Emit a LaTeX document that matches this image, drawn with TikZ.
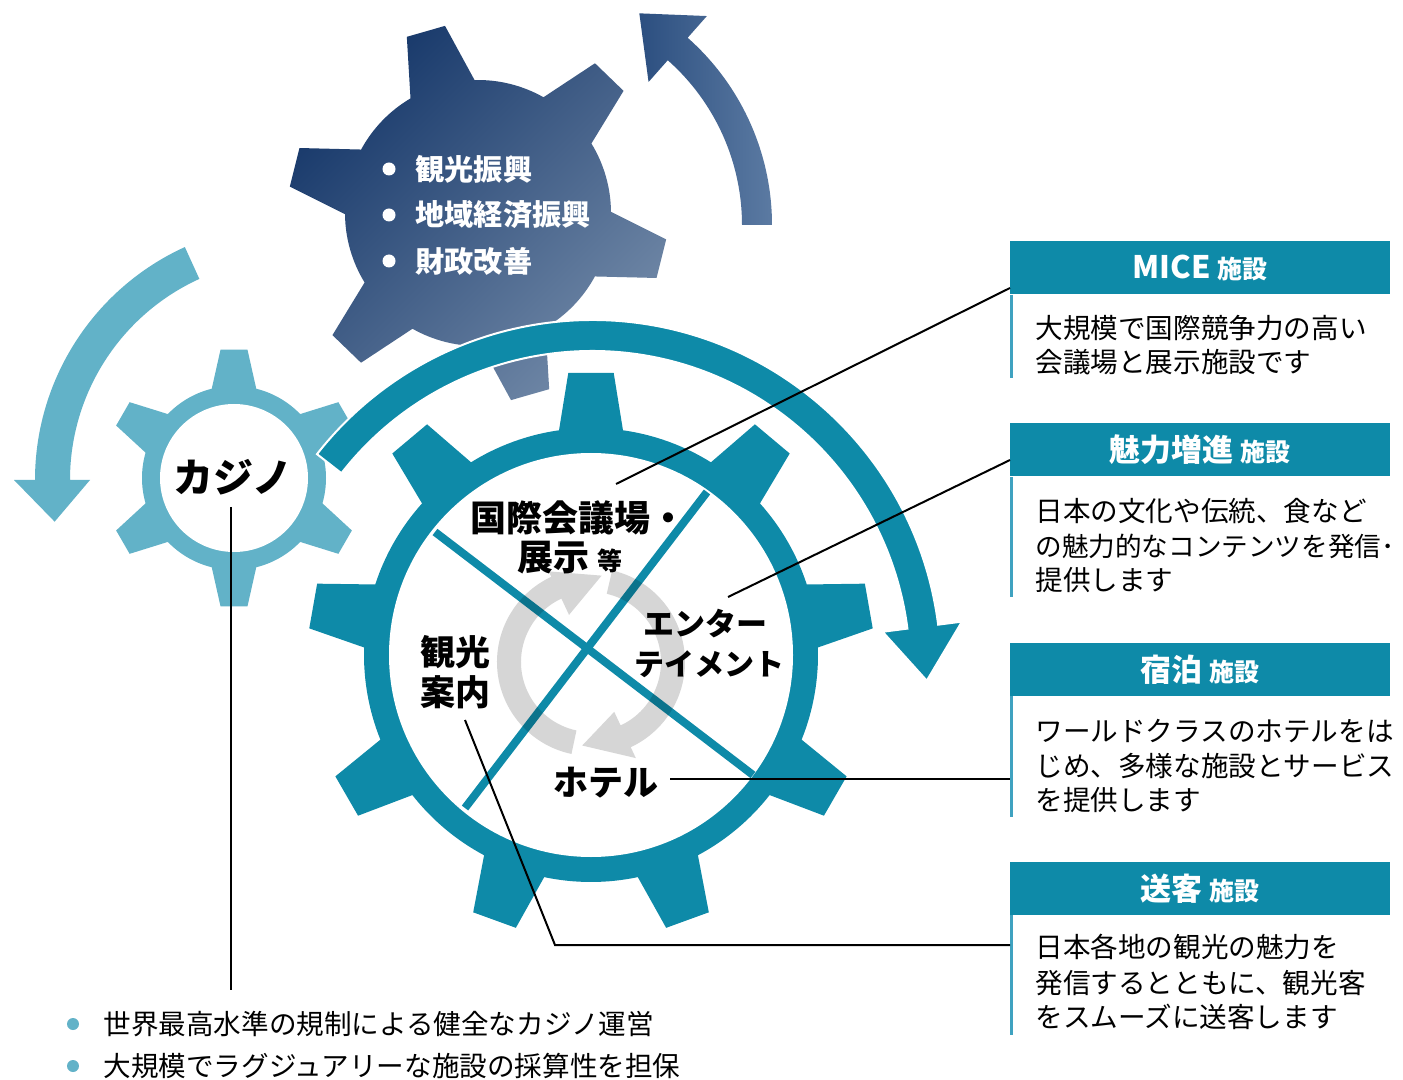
\documentclass[tikz,border=0pt]{standalone}
\usepackage{fontspec}
\setmainfont{Noto Sans CJK JP}
\usetikzlibrary{calc}
\definecolor{teal1}{HTML}{0E8AA8}
\definecolor{lblue}{HTML}{62B2C8}
\definecolor{navyA}{HTML}{17386A}
\definecolor{navyB}{HTML}{6F87A6}
\definecolor{arrA}{HTML}{2C4F80}
\definecolor{arrB}{HTML}{5B7AA2}
\definecolor{grayarr}{HTML}{D6D6D6}
\definecolor{bordc}{HTML}{3FA2C0}
\newcommand{\mygear}[9]{%
  \pgfmathsetmacro{\gstep}{360/#4}%
  \pgfmathtruncatemacro{\glast}{#4-1}%
  \begin{scope}[shift={(#2,#3)}]
  \path[#1] ({#5-#8}:#6) \foreach \k in {0,...,\glast} {
     -- ({#5+\k*\gstep-#9}:#7) -- ({#5+\k*\gstep+#9}:#7) -- ({#5+\k*\gstep+#8}:#6)
     arc[start angle={#5+\k*\gstep+#8}, end angle={#5+(\k+1)*\gstep-#8}, radius=#6]
  } -- cycle;
  \end{scope}}
\tikzset{
 lbl/.style={font=\bfseries\fontsize{18}{20}\selectfont, inner sep=0pt, anchor=west, text=black},
 body/.style={font=\fontsize{13.8}{16}\selectfont, inner sep=0pt, anchor=west, text=black},
 hdrbox/.style={fill=teal1, minimum width=190pt, minimum height=26.5pt, inner sep=0pt, text=white, font=\bfseries\fontsize{15.5}{17}\selectfont},
 callout/.style={draw=black, line width=1pt},
 bordl/.style={draw=bordc, line width=1.5pt},
 crossl/.style={draw=teal1, line width=4pt},
 gtext/.style={font=\bfseries\fontsize{14.6}{16}\selectfont, text=white, inner sep=0pt, anchor=west},
}
\newcommand{\smallsetsu}{{\fontsize{12.5}{14}\selectfont 施設}}
\begin{document}
\begin{tikzpicture}[x=0.5pt,y=0.5pt]
\fill[white] (0,0) rectangle (1403,-1080);
\useasboundingbox (0,0) rectangle (1403,-1080);

% casino gear
\mygear{fill=lblue}{234}{-478}{6}{90}{92}{129}{14}{6}
\fill[white] (234,-478) circle[radius=74];

% dark gear
\mygear{shade, top color=navyA, bottom color=navyB, shading angle=45}{478}{-213}{6}{106}{133}{190}{14.5}{6}

% big gear
\mygear{fill=teal1}{591}{-655}{9}{90}{227}{283}{8.1}{4.6}
\fill[white] (591,-655) circle[radius=202];

% big arc arrow
\begin{scope}[shift={(592,-669)}]
\path[fill=teal1, draw=white, line width=1pt, line join=miter]
  (142:318) arc[start angle=142, end angle=7.3, radius=318]
  -- (7.3:293) -- (-2:335) -- (7.3:373) -- (7.3:349)
  arc[start angle=7.3, end angle=142, radius=349] -- cycle;
\end{scope}

% light arc arrow
\begin{scope}[shift={(291,-480)}]
\path[fill=lblue]
  (114.5:221) arc[start angle=114.5, end angle=180, radius=221]
  -- (180:201) -- (190:240) -- (180:277) -- (180:256)
  arc[start angle=180, end angle=114.5, radius=256] -- cycle;
\end{scope}

% dark arc arrow
\begin{scope}[shift={(522,-225)}]
\path[shade, left color=arrA, right color=arrB]
  (0:220) arc[start angle=0, end angle=48.5, radius=220]
  -- (48.5:191) -- (61:242) -- (48.5:279) -- (48.5:250)
  arc[start angle=48.5, end angle=0, radius=250] -- cycle;
\end{scope}

% cross lines
\coordinate (la1) at (435,-532);
\coordinate (la2) at (753,-775);
\coordinate (lb1) at (707,-492);
\coordinate (lb2) at (465,-808);
\draw[crossl] (la1) -- (la2);
\draw[crossl] (lb1) -- (lb2);

% gray circular arrows
\begin{scope}[shift={(591,-662)}, blend mode=multiply]
\path[fill=grayarr]
  (258:94) arc[start angle=258, end angle=115, radius=94]
  -- (115:100) -- (83:87) -- (115:52) -- (115:70)
  arc[start angle=115, end angle=258, radius=70] -- cycle;
\path[fill=grayarr]
  (77:94) arc[start angle=77, end angle=-65, radius=94]
  -- (-65:106) -- (-96:84) -- (-65:55) -- (-65:70)
  arc[start angle=-65, end angle=77, radius=70] -- cycle;
\end{scope}

% labels in big gear
\node[lbl] (kokusai) at (470,-518) {国際会議場・};
\node[lbl] (tenji) at (517,-558) {展示 {\fontsize{12.5}{14}\selectfont 等}};
\node[lbl, font=\bfseries\fontsize{15.5}{17}\selectfont] (ent1) at (643,-624) {エンター};
\node[lbl, font=\bfseries\fontsize{15}{17}\selectfont] (ent2) at (634,-664) {テイメント};
\node[lbl, font=\bfseries\fontsize{17.5}{19}\selectfont] (kan1) at (420,-652) {観光};
\node[lbl, font=\bfseries\fontsize{17.5}{19}\selectfont] (kan2) at (420,-692) {案内};
\node[lbl, font=\bfseries\fontsize{17.5}{19}\selectfont] (hotel) at (553,-783) {ホテル};
\node[lbl, anchor=center, font=\bfseries\fontsize{20}{22}\selectfont] (casino) at (233,-477) {カジノ};

% dark gear text
\fill[white] (389,-169) circle[radius=6.5];
\fill[white] (389,-215) circle[radius=6.5];
\fill[white] (389,-261) circle[radius=6.5];
\node[gtext] (g1) at (415,-169) {観光振興};
\node[gtext] (g2) at (415,-215) {地域経済振興};
\node[gtext] (g3) at (415,-261) {財政改善};

% boxes
\node[hdrbox] (h1) at (1200,-268) {MICE \smallsetsu};
\node[hdrbox] (h2) at (1200,-450) {魅力増進 \smallsetsu};
\node[hdrbox] (h3) at (1200,-669.5) {宿泊 \smallsetsu};
\node[hdrbox] (h4) at (1200,-888.5) {送客 \smallsetsu};
\draw[bordl] ($(h1.south west)+(1.5,0)$) -- ++(0,-83);
\draw[bordl] ($(h2.south west)+(1.5,0)$) -- ++(0,-120);
\draw[bordl] ($(h3.south west)+(1.5,0)$) -- ++(0,-121);
\draw[bordl] ($(h4.south west)+(1.5,0)$) -- ++(0,-120);

\node[body] (b11) at (1035,-328) {大規模で国際競争力の高い};
\node[body] (b12) at (1035,-362) {会議場と展示施設です};
\node[body] (b21) at (1035,-511) {日本の文化や伝統、食など};
\node[body, font=\fontsize{13.3}{16}\selectfont] (b22) at (1035,-546) {の魅力的なコンテンツを発信･};
\node[body] (b23) at (1035,-580) {提供します};
\node[body] (b31) at (1035,-731) {ワールドクラスのホテルをは};
\node[body] (b32) at (1035,-766) {じめ、多様な施設とサービス};
\node[body] (b33) at (1035,-800) {を提供します};
\node[body] (b41) at (1035,-947) {日本各地の観光の魅力を};
\node[body] (b42) at (1035,-983) {発信するとともに、観光客};
\node[body] (b43) at (1035,-1017) {をスムーズに送客します};

% bottom bullets
\fill[lblue] (73,-1024) circle[radius=6];
\fill[lblue] (73,-1066) circle[radius=6];
\node[body] (c1) at (103,-1024) {世界最高水準の規制による健全なカジノ運営};
\node[body] (c2) at (103,-1066) {大規模でラグジュアリーな施設の採算性を担保};

% callouts
\coordinate (cM) at (616,-484); \coordinate (eM) at (1010,-288);
\coordinate (cE) at (728,-597); \coordinate (eE) at (1010,-460);
\coordinate (cH) at (670,-779); \coordinate (eH) at (1010,-779);
\coordinate (cK) at (465,-720); \coordinate (kK) at (555,-945); \coordinate (eK) at (1010,-945);
\coordinate (cC) at (231,-507); \coordinate (eC) at (231,-990);
\draw[callout] (cM) -- (eM);
\draw[callout] (cE) -- (eE);
\draw[callout] (cH) -- (eH);
\draw[callout] (cK) -- (kK) -- (eK);
\draw[callout] (cC) -- (eC);
\end{tikzpicture}
\end{document}
